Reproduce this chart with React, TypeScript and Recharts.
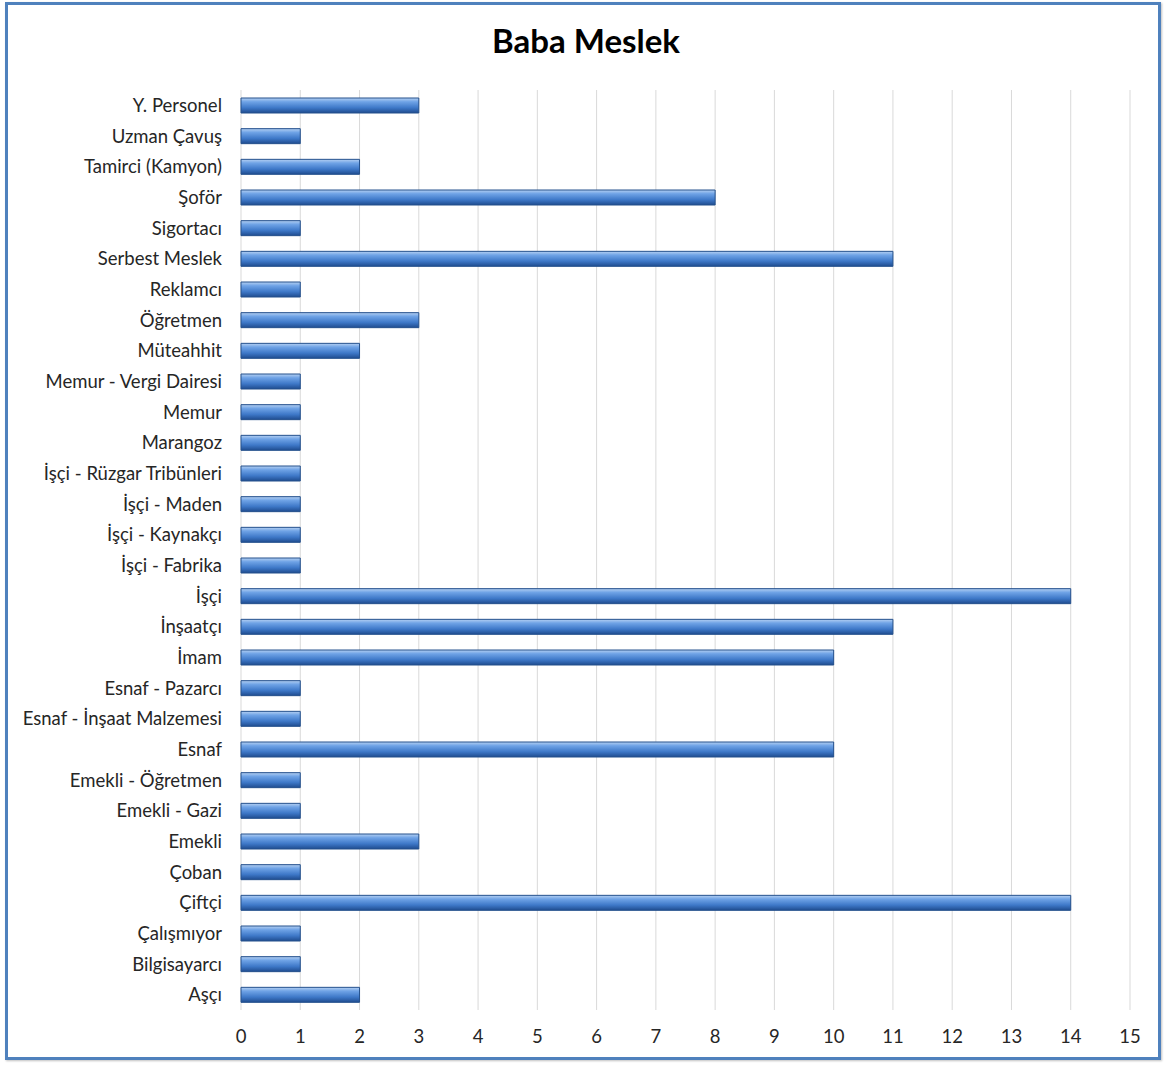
import { BarChart, Bar, XAxis, YAxis, CartesianGrid } from "recharts";

const occupations = [
  "Y. Personel",
  "Uzman Çavuş",
  "Tamirci (Kamyon)",
  "Şoför",
  "Sigortacı",
  "Serbest Meslek",
  "Reklamcı",
  "Öğretmen",
  "Müteahhit",
  "Memur - Vergi Dairesi",
  "Memur",
  "Marangoz",
  "İşçi - Rüzgar Tribünleri",
  "İşçi - Maden",
  "İşçi - Kaynakçı",
  "İşçi - Fabrika",
  "İşçi",
  "İnşaatçı",
  "İmam",
  "Esnaf - Pazarcı",
  "Esnaf - İnşaat Malzemesi",
  "Esnaf",
  "Emekli - Öğretmen",
  "Emekli - Gazi",
  "Emekli",
  "Çoban",
  "Çiftçi",
  "Çalışmıyor",
  "Bilgisayarcı",
  "Aşçı",
];

const counts = [3, 1, 2, 8, 1, 11, 1, 3, 2, 1, 1, 1, 1, 1, 1, 1, 14, 11, 10, 1, 1, 10, 1, 1, 3, 1, 14, 1, 1, 2];

const xTicks = [0, 1, 2, 3, 4, 5, 6, 7, 8, 9, 10, 11, 12, 13, 14, 15];

const data = occupations.map((name, i) => ({ name, value: counts[i] }));

const font = "Lato, 'Open Sans', sans-serif";

export default function App() {
  return (
    <div style={{ position: "absolute", left: 0, top: 0, width: 1166, height: 1065, background: "#fff" }}>
      <div
        style={{
          position: "absolute",
          left: 5,
          top: 2,
          width: 1150,
          height: 1052,
          border: "3px solid #4f81bd",
          boxShadow: "1px 1px 2px rgba(0,0,0,0.25)",
        }}
      />
      <div
        style={{
          position: "absolute",
          left: 0,
          top: 20,
          width: 1172,
          textAlign: "center",
          fontFamily: font,
          fontWeight: 700,
          fontSize: 33,
          color: "#000",
        }}
      >
        Baba Meslek
      </div>
      <div style={{ position: "absolute", left: 0, top: 0 }}>
        <BarChart
          width={1166}
          height={1065}
          data={data}
          layout="vertical"
          margin={{ top: 90, right: 36, left: 0, bottom: 0 }}
          barCategoryGap={0}
        >
          <defs>
            <linearGradient id="barFill" x1="0" y1="0" x2="0" y2="1">
              <stop offset="0%" stopColor="#b5d0f2" />
              <stop offset="25%" stopColor="#6fa3e6" />
              <stop offset="65%" stopColor="#3e78c8" />
              <stop offset="100%" stopColor="#1f4c8f" />
            </linearGradient>
          </defs>
          <CartesianGrid horizontal={false} stroke="#d9d9d9" />
          <XAxis
            type="number"
            domain={[0, 15]}
            ticks={xTicks}
            interval={0}
            axisLine={false}
            tickLine={false}
            tickMargin={14}
            height={55}
            tick={{ fill: "#262626", fontSize: 18.5, fontFamily: font }}
          />
          <YAxis
            type="category"
            dataKey="name"
            width={241}
            interval={0}
            axisLine={false}
            tickLine={false}
            tickMargin={13}
            tick={{ fill: "#262626", fontSize: 18.5, fontFamily: font }}
          />
          <Bar
            dataKey="value"
            barSize={15}
            fill="url(#barFill)"
            stroke="#24508c"
            strokeWidth={1}
            isAnimationActive={false}
          />
        </BarChart>
      </div>
    </div>
  );
}
